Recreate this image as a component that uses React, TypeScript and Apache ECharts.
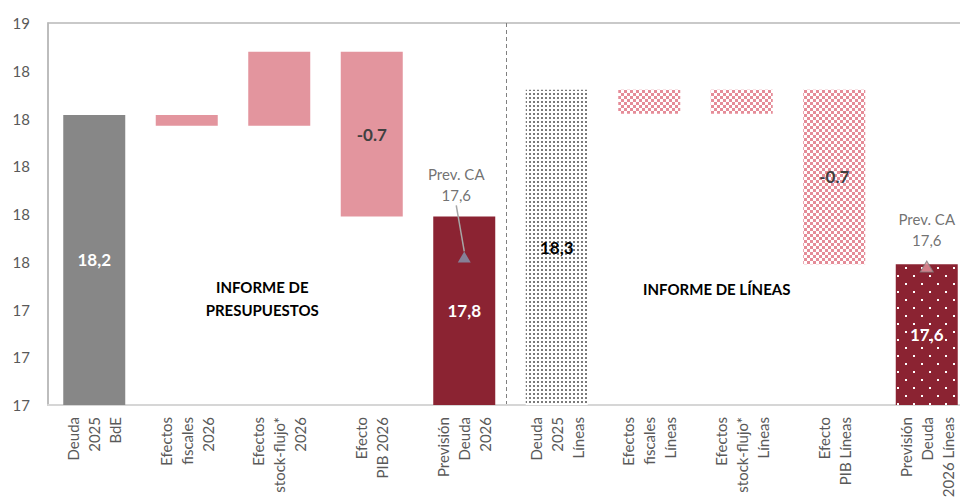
import React, { useEffect, useRef } from "react";
import * as echarts from "echarts";

const categories = [
  "Deuda\n2025\nBdE",
  "Efectos\nfiscales\n2026",
  "Efectos\nstock-flujo*\n2026",
  "Efecto\nPIB 2026",
  "Previsión\nDeuda\n2026",
  "Deuda\n2025\nLíneas",
  "Efectos\nfiscales\nLíneas",
  "Efectos\nstock-flujo*\nLíneas",
  "Efecto\nPIB Líneas",
  "Previsión\nDeuda\n2026 Líneas",
];

// bottom and top of each waterfall bar (totals start at 0)
const barLow = [0, 18.17, 18.17, 17.79, 0, 0, 18.22, 18.22, 17.59, 0];
const barHigh = [18.215, 18.215, 18.48, 18.48, 17.79, 18.32, 18.32, 18.32, 18.32, 17.59];
const barLabels = ["18,2", "", "", "-0.7", "17,8", "18,3", "", "", "-0.7", "17,6"];

// Prev. CA markers
const prevCA = [null, null, null, null, 17.62, null, null, null, null, 17.58];
const prevCALabel = "Prev. CA\n17,6";

const yMin = 17;
const yMax = 18.6;
const yInterval = 0.2;

const FONT = "Lato, 'Noto Sans', sans-serif";

function makePattern(
  w: number,
  h: number,
  bg: string,
  fg: string,
  dots: number[][]
) {
  const c = document.createElement("canvas");
  c.width = w;
  c.height = h;
  const ctx = c.getContext("2d")!;
  ctx.fillStyle = bg;
  ctx.fillRect(0, 0, w, h);
  ctx.fillStyle = fg;
  dots.forEach(([x, y, s, t]) => ctx.fillRect(x, y, s, t ?? s));
  return { image: c, repeat: "repeat", imageWidth: w, imageHeight: h };
}

export default function App() {
  const ref = useRef<HTMLDivElement>(null);

  useEffect(() => {
    document.body.style.margin = "0";
    if (!ref.current) return;
    const chart = echarts.init(ref.current, null, { renderer: "svg" });

    const gray = "#878787";
    const pink = "#e3959e";
    const darkRed = "#8b2332";

    const grayDots = makePattern(4, 4, "#ffffff", "#7a7a7a", [[1, 1, 2]]);
    const pinkChecker = makePattern(6, 6, "#ffffff", "#e58c98", [
      [0, 0, 3],
      [3, 3, 3],
    ]);
    const redDots = makePattern(16, 16, darkRed, "#ffffff", [
      [1, 3, 2],
      [9, 11, 2],
    ]);

    const styles: any[] = [
      { fill: gray, label: "#ffffff" },
      { fill: pink, label: "#404040" },
      { fill: pink, label: "#404040" },
      { fill: pink, label: "#404040" },
      { fill: darkRed, label: "#ffffff" },
      { fill: grayDots, label: "#000000" },
      { fill: pinkChecker, label: "#404040" },
      { fill: pinkChecker, label: "#404040" },
      { fill: pinkChecker, label: "#404040" },
      { fill: redDots, label: "#ffffff" },
    ];

    const visibleData = categories.map((_, i) => ({
      value: +(barHigh[i] - barLow[i]).toFixed(4),
      itemStyle: { color: styles[i].fill },
      label: { color: styles[i].label },
    }));

    const scatterData = prevCA.map((v, i) =>
      v == null
        ? null
        : {
            value: v,
            itemStyle:
              i === 4
                ? { color: "#8497b0" }
                : { color: pink, borderColor: "#7f7f7f", borderWidth: 1 },
            labelLine: { show: i === 4 },
          }
    );

    chart.setOption({
      animation: false,
      textStyle: { fontFamily: FONT },
      grid: {
        left: 48,
        top: 23,
        bottom: 92,
        width: 925,
        show: true,
        borderColor: "#b8b8b8",
        borderWidth: 1.5,
        containLabel: false,
        outerBoundsMode: "none",
      },
      xAxis: {
        type: "category",
        data: categories,
        axisLine: { show: true, lineStyle: { color: "#d6d6d6", width: 2 } },
        axisTick: { show: false },
        axisLabel: {
          interval: 0,
          rotate: 90,
          fontSize: 15,
          lineHeight: 21,
          color: "#595959",
          margin: 12,
          fontFamily: FONT,
        },
      },
      yAxis: {
        type: "value",
        min: yMin,
        max: yMax,
        interval: yInterval,
        axisLine: { show: true, lineStyle: { color: "#b8b8b8", width: 1.5 } },
        axisTick: { show: false },
        splitLine: { show: false },
        axisLabel: {
          formatter: (v: number) => String(Math.round(v)),
          fontSize: 15,
          color: "#595959",
          margin: 18,
          fontFamily: FONT,
        },
      },
      series: [
        {
          name: "base",
          type: "bar",
          stack: "w",
          barWidth: 62,
          silent: true,
          itemStyle: { color: "transparent" },
          data: barLow,
        },
        {
          name: "valor",
          type: "bar",
          stack: "w",
          barWidth: 62,
          data: visibleData,
          label: {
            show: true,
            position: "inside",
            fontSize: 17,
            fontWeight: "bold",
            fontFamily: FONT,
            formatter: (p: any) => barLabels[p.dataIndex],
          },
        },
        {
          name: "Prev. CA",
          type: "scatter",
          symbol: "triangle",
          symbolSize: [13, 11],
          z: 5,
          data: scatterData,
          label: {
            show: true,
            position: "top",
            distance: 10,
            formatter: () => prevCALabel,
            fontSize: 15,
            lineHeight: 21,
            color: "#4d4d4d",
            align: "center",
            fontFamily: FONT,
          },
          labelLayout: (p: any) =>
            p.dataIndex === 4 ? { dx: -8, dy: -36 } : {},
          labelLine: {
            show: true,
            lineStyle: { color: "#a6a6a6", width: 1.5 },
          },
        },
      ],
    });

    // divider and section titles
    const xa = chart.convertToPixel({ xAxisIndex: 0 }, categories[4]) as number;
    const xb = chart.convertToPixel({ xAxisIndex: 0 }, categories[5]) as number;
    const yTop = chart.convertToPixel({ yAxisIndex: 0 }, yMax) as number;
    const yBot = chart.convertToPixel({ yAxisIndex: 0 }, yMin) as number;
    const divX = (xa + xb) / 2 - 4;
    const xL = chart.convertToPixel({ xAxisIndex: 0 }, categories[2]) as number;
    const xR = chart.convertToPixel({ xAxisIndex: 0 }, categories[7]) as number;

    chart.setOption({
      graphic: [
        {
          type: "line",
          shape: { x1: divX, y1: yTop, x2: divX, y2: yBot },
          style: { stroke: "#808080", lineWidth: 1, lineDash: [4, 3] },
          silent: true,
        },
        {
          type: "text",
          x: xL - 17,
          y: 298,
          style: {
            text: "INFORME DE\nPRESUPUESTOS",
            fill: "#000000",
            font: `bold 15px ${FONT}`,
            lineHeight: 23,
            align: "center",
            verticalAlign: "middle",
          },
        },
        {
          type: "text",
          x: xR - 25,
          y: 289,
          style: {
            text: "INFORME DE LÍNEAS",
            fill: "#000000",
            font: `bold 15px ${FONT}`,
            align: "center",
            verticalAlign: "middle",
          },
        },
      ],
    });

    return () => chart.dispose();
  }, []);

  return <div ref={ref} style={{ width: 960, height: 497 }} />;
}
